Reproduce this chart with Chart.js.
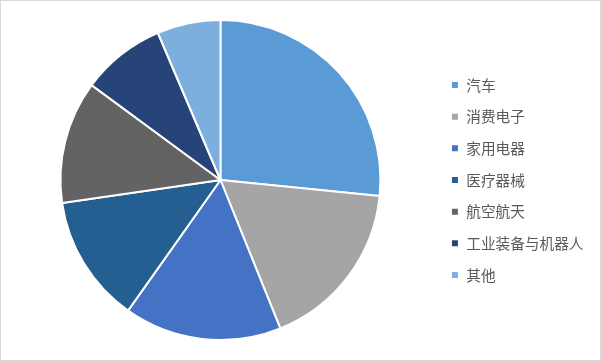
<!DOCTYPE html>
<html>
<head>
<meta charset="utf-8">
<script src="https://cdn.jsdelivr.net/npm/chart.js@4"></script>
<style>
  html, body { margin: 0; padding: 0; background: #fff; }
  #wrap { width: 601px; height: 361px; box-sizing: border-box; border: 1px solid #d9d9d9; }
</style>
</head>
<body>
<div id="wrap"><canvas id="pie" width="599" height="359"></canvas></div>
<script>
var categories = ["汽车", "消费电子", "家用电器", "医疗器械", "航空航天", "工业装备与机器人", "其他"];
var shares = [26.6, 17.3, 15.9, 12.9, 12.4, 8.5, 6.4];
var colors = ["#5B9BD5", "#A5A5A5", "#4472C4", "#255E91", "#636363", "#264478", "#7CAFDD"];

var ctx = document.getElementById("pie").getContext('2d');
var pieChart = new Chart(ctx, {
	type: 'pie',
	data: {
		labels: categories,
		datasets: [{
			data: shares,
			backgroundColor: colors,
			borderColor: "#ffffff",
			borderWidth: 2
		}]
	},
	options: {
		responsive: false,
		animation: false,
		// padding tuned so pie sits at (220,180) r=160 and legend boxes start near x=451
		layout: { padding: { top: 18, bottom: 19, left: 6, right: 6.5 } },
		plugins: {
			tooltip: { enabled: false },
			legend: {
				position: 'right',
				labels: {
					boxWidth: 8,
					boxHeight: 8,
					padding: 17,
					color: "#595959",
					font: { family: "'Noto Sans CJK SC', 'Noto Sans', sans-serif", size: 14.67 }
				}
			}
		}
	}
});
</script>
</body>
</html>
